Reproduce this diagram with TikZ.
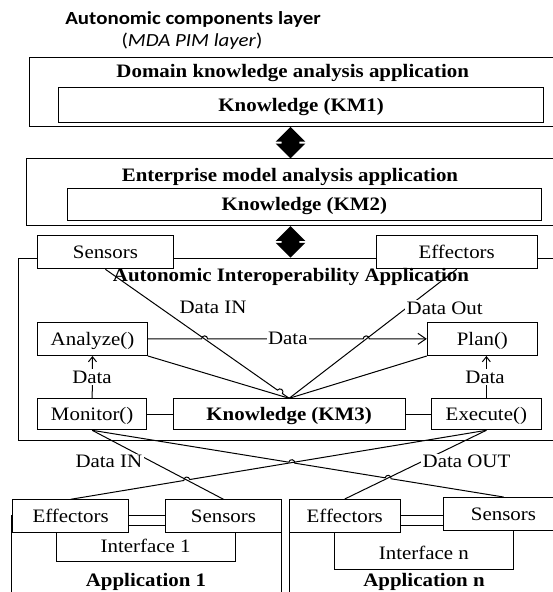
\documentclass[tikz,border=0pt]{standalone}
\usepackage{fontspec}
\setmainfont[FakeStretch=1.10]{Liberation Serif}
\newfontfamily\calfont[FakeStretch=1.13]{Carlito}
\usetikzlibrary{calc,arrows.meta}
\newcommand\jumpone[4]{%
  \draw[#1] let \p1=($(#3)-(#2)$), \n1={atan2(\y1,\x1)} in
    (#2) -- ($(#2)!#4!(#3)!3pt!(#2)$)
    arc[start angle=\n1+180, delta angle=-180, radius=3pt] -- (#3);}
\newcommand\jumptwo[5]{%
  \draw[#1] let \p1=($(#3)-(#2)$), \n1={atan2(\y1,\x1)} in
    (#2) -- ($(#2)!#4!(#3)!3pt!(#2)$)
    arc[start angle=\n1+180, delta angle=-180, radius=3pt]
    -- ($(#2)!#5!(#3)!3pt!(#2)$)
    arc[start angle=\n1+180, delta angle=-180, radius=3pt] -- (#3);}
\begin{document}
\begin{tikzpicture}[x=1pt,y=1pt,
  every node/.style={font=\fontsize{19}{21}\selectfont, text height=12.5pt, text depth=0pt, inner sep=0pt},
  box/.style={draw, fill=white, line width=1pt, anchor=north west},
  lbl/.style={fill=white, inner sep=1.5pt},
  ln/.style={line width=1pt},
  barb/.style={-{Straight Barb[length=5pt,width=8pt]}},
  dia/.style={fill=black},
]
\useasboundingbox (0,0) rectangle (553,-592);
\clip (0,0) rectangle (553,-592);
\coordinate (ax) at (290.5,0);

% titles
\node[font=\calfont\bfseries\fontsize{18.5}{20}\selectfont] (ttl) at (193,-18.3) {Autonomic components layer};
\node[font=\calfont\fontsize{18.5}{20}\selectfont] (sub) at (192,-40) {(\textit{MDA PIM layer})};

% domain box
\node[box, minimum width=545, minimum height=69.3] (dka) at (28.6,-56.7) {};
\node (dkaT) at (292.7,-71.7) {\bfseries Domain knowledge analysis application};
\node[box, minimum width=485, minimum height=35] (km1) at (58.2,-87.3) {\bfseries Knowledge (KM1)};

% enterprise box
\node[box, minimum width=550, minimum height=66.7] (ema) at (25.7,-158.3) {};
\node (emaT) at (290,-175) {\bfseries Enterprise model analysis application};
\node[box, minimum width=473.7, minimum height=31.7] (km2) at (67,-188.3) {\bfseries Knowledge (KM2)};

% autonomic interoperability application
\node[box, minimum width=560, minimum height=182.3] (aia) at (17.6,-257.7) {};
\node[box, minimum width=135.8, minimum height=33.3] (sensT) at (37,-235) {Sensors};
\node[box, minimum width=161.2, minimum height=33.3] (effT) at (375.6,-235) {Effectors};
\node (aiaT) at (291,-275) {\bfseries Autonomic Interoperability Application};
\node[box, minimum width=110, minimum height=33.3] (ana) at (37,-321.7) {Analyze()};
\node[box, minimum width=110.2, minimum height=33.3] (plan) at (426.8,-321.7) {Plan()};
\node[box, minimum width=109.4, minimum height=31] (mon) at (37,-398.3) {Monitor()};
\node[box, minimum width=231.7, minimum height=31] (km3) at (172.8,-398.3) {\bfseries Knowledge (KM3)};
\node[box, minimum width=109.7, minimum height=31] (exe) at (431,-398.3) {Execute()};

% double arrows
\coordinate (d1) at ($(dka.south -| ax)!0.5!(ema.north -| ax)$);
\coordinate (d2) at ($(ema.south -| ax)!0.5!(aia.north -| ax)$);
\foreach \d in {d1,d2}{
  \fill[dia,shift={(\d)}] (0,15.8) -- (14.8,1) -- (8.8,1) -- (8.8,-1) -- (14.8,-1) -- (0,-15.8)
    -- (-14.8,-1) -- (-8.8,-1) -- (-8.8,1) -- (-14.8,1) -- cycle;
}

% application 1
\node[box, minimum width=270, minimum height=100] (app1) at (11,-515) {};
\node[box, minimum width=178.1, minimum height=36] (if1) at (56.4,-525) {};
\node (if1T) at (145.7,-546.7) {Interface 1};
\node[box, minimum width=115.7, minimum height=32.4] (e1) at (12.3,-499.3) {Effectors};
\node[box, minimum width=116, minimum height=32.4] (s1) at (165,-499.3) {Sensors};
\node (app1T) at (146,-580) {\bfseries Application 1};

% application n
\node[box, minimum width=300, minimum height=100] (appn) at (288.5,-515) {};
\node[box, minimum width=178.9, minimum height=44] (ifn) at (334.4,-524.5) {};
\node (ifnT) at (423.8,-553) {Interface n};
\node[box, minimum width=111.5, minimum height=32.5] (en) at (288.5,-499) {Effectors};
\node[box, minimum width=120, minimum height=32.5] (sn) at (443,-497) {Sensors};
\node (appnT) at (424,-580) {\bfseries Application n};

% connectors inside
\draw[ln] (mon.east) -- (km3.west);
\draw[ln] (km3.east) -- (exe.west);
\draw[ln] (ana.south east) -- (km3.north);
\draw[ln] (plan.south west) -- (km3.north);
\jumpone{ln}{sensT.south}{km3.north}{0.95}
\draw[ln] (effT.south) -- (km3.north);
\jumptwo{ln,-{Straight Barb[length=8pt,width=11pt]}}{ana.east}{plan.west}{0.203}{0.7827}
\draw[ln,barb] (mon.north) -- (ana.south);
\draw[ln,barb] (exe.north) -- (exe.north |- plan.south);

% connectors to applications
\draw[ln] (mon.south) -- (s1.north);
\jumptwo{ln}{mon.south}{sn.north}{0.4852}{0.7195}
\jumpone{ln}{e1.north}{exe.south}{0.2794}
\draw[ln] (exe.south) -- (en.north);

% labels
\node[lbl] (dIn) at (213,-307.7) {Data IN};
\node[lbl, anchor=west] (dOut) at (405,-308) {Data Out};
\node[lbl] (dH) at (287.8,-338.3) {Data};
\node[lbl] (dA) at (92,-377) {Data};
\node[lbl] (dP) at (485,-377) {Data};
\node[lbl, anchor=east] (dIn2) at (144,-461.7) {Data IN};
\node[lbl, anchor=west] (dOut2) at (421,-461.7) {Data OUT};
\end{tikzpicture}
\end{document}
